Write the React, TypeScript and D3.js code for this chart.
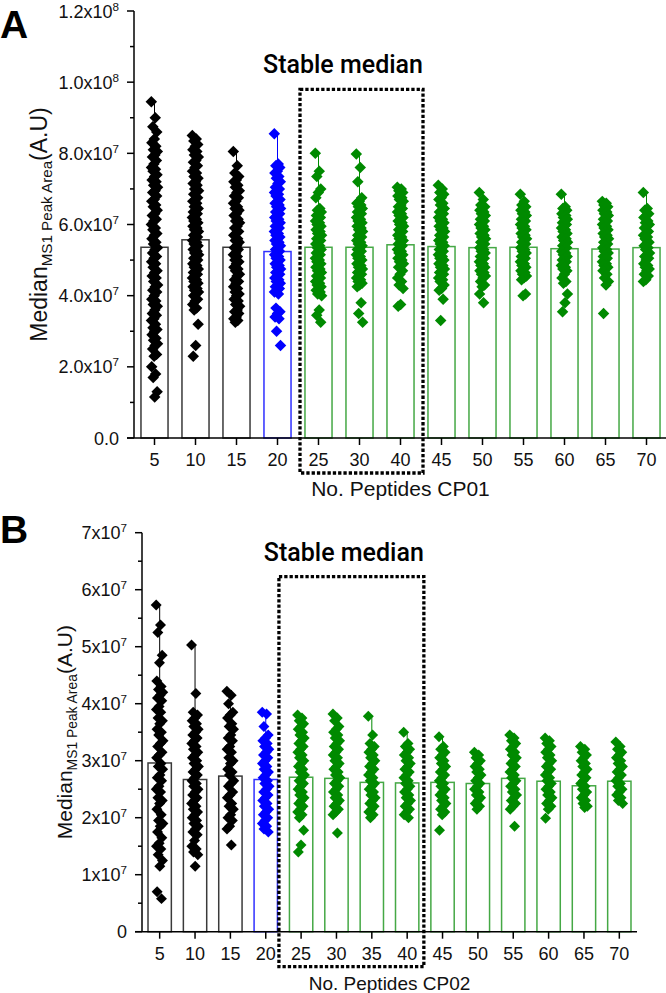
import React from 'react';
import * as d3 from 'd3';

// all values are in units of 1e7 (Median MS1 peak area, A.U)
const categoriesA = ['5', '10', '15', '20', '25', '30', '40', '45', '50', '55', '60', '65', '70'];
const categoriesB = ['5', '10', '15', '20', '25', '30', '35', '40', '45', '50', '55', '60', '65', '70'];

const mediansA = [5.36, 5.57, 5.36, 5.24, 5.36, 5.36, 5.43, 5.38, 5.35, 5.36, 5.32, 5.31, 5.35];
const mediansB = [2.96, 2.67, 2.73, 2.67, 2.71, 2.69, 2.62, 2.61, 2.62, 2.6, 2.69, 2.64, 2.56, 2.64];

const pointsA = [
  [9.45, 9.0, 8.75, 8.6, 8.4, 8.3, 8.2, 8.1, 8.05, 7.95, 7.9, 7.8, 7.7, 7.6, 7.55, 7.5, 7.4, 7.35, 7.25, 7.2, 7.1, 7.05, 6.95, 6.9, 6.8, 6.7, 6.65, 6.55, 6.5, 6.4, 6.3, 6.25, 6.15, 6.1, 6.0, 5.9, 5.85, 5.75, 5.7, 5.6, 5.5, 5.45, 5.35, 5.3, 5.2, 5.1, 5.05, 4.95, 4.9, 4.8, 4.7, 4.65, 4.55, 4.5, 4.4, 4.3, 4.25, 4.15, 4.1, 4.0, 3.9, 3.85, 3.75, 3.7, 3.6, 3.5, 3.45, 3.35, 3.3, 3.2, 3.1, 3.05, 3.0, 2.9, 2.8, 2.75, 2.65, 2.6, 2.5, 2.35, 2.3, 2.0, 1.8, 1.7, 1.3, 1.15],
  [8.5, 8.4, 8.35, 8.25, 8.2, 8.1, 8.05, 7.95, 7.9, 7.8, 7.75, 7.65, 7.6, 7.5, 7.45, 7.35, 7.3, 7.2, 7.15, 7.1, 7.0, 6.95, 6.9, 6.85, 6.75, 6.7, 6.65, 6.6, 6.5, 6.45, 6.4, 6.35, 6.3, 6.25, 6.2, 6.15, 6.1, 6.05, 6.0, 5.95, 5.9, 5.85, 5.8, 5.75, 5.7, 5.65, 5.6, 5.55, 5.5, 5.45, 5.4, 5.35, 5.3, 5.25, 5.2, 5.15, 5.1, 5.05, 5.0, 4.95, 4.9, 4.85, 4.8, 4.75, 4.7, 4.65, 4.6, 4.55, 4.5, 4.45, 4.4, 4.35, 4.3, 4.25, 4.2, 4.15, 4.1, 4.05, 4.0, 3.9, 3.85, 3.75, 3.65, 3.6, 3.2, 2.6, 2.3],
  [8.05, 7.65, 7.45, 7.35, 7.25, 7.2, 7.1, 7.05, 6.95, 6.9, 6.8, 6.75, 6.65, 6.6, 6.5, 6.45, 6.4, 6.3, 6.25, 6.15, 6.1, 6.05, 5.95, 5.9, 5.8, 5.75, 5.7, 5.6, 5.55, 5.5, 5.4, 5.35, 5.3, 5.2, 5.15, 5.1, 5.0, 4.95, 4.9, 4.8, 4.75, 4.7, 4.6, 4.55, 4.45, 4.4, 4.35, 4.25, 4.2, 4.1, 4.05, 4.0, 3.9, 3.85, 3.75, 3.7, 3.6, 3.55, 3.5, 3.4, 3.35, 3.3, 3.25],
  [8.55, 7.7, 7.65, 7.6, 7.5, 7.45, 7.35, 7.3, 7.2, 7.15, 7.05, 7.0, 6.95, 6.9, 6.85, 6.8, 6.7, 6.65, 6.6, 6.55, 6.5, 6.45, 6.4, 6.35, 6.3, 6.25, 6.2, 6.15, 6.1, 6.05, 6.0, 5.95, 5.9, 5.85, 5.8, 5.75, 5.7, 5.65, 5.6, 5.55, 5.5, 5.45, 5.4, 5.35, 5.3, 5.25, 5.2, 5.15, 5.1, 5.05, 5.0, 4.95, 4.9, 4.85, 4.8, 4.75, 4.7, 4.65, 4.6, 4.55, 4.5, 4.45, 4.4, 4.35, 4.3, 4.25, 4.2, 4.15, 4.1, 4.05, 3.65, 3.55, 3.5, 3.4, 3.35, 3.0, 2.6],
  [8.0, 7.5, 7.35, 7.0, 6.9, 6.75, 6.45, 6.4, 6.35, 6.3, 6.25, 6.2, 6.15, 6.1, 6.05, 6.0, 5.95, 5.9, 5.85, 5.8, 5.75, 5.7, 5.65, 5.6, 5.55, 5.5, 5.45, 5.4, 5.35, 5.3, 5.25, 5.2, 5.15, 5.1, 5.05, 5.0, 4.95, 4.9, 4.85, 4.8, 4.75, 4.7, 4.65, 4.6, 4.55, 4.5, 4.45, 4.4, 4.35, 4.3, 4.25, 4.2, 4.15, 4.1, 4.05, 4.0, 3.6, 3.45, 3.25],
  [7.98, 7.6, 7.2, 6.75, 6.65, 6.6, 6.55, 6.5, 6.45, 6.4, 6.35, 6.3, 6.25, 6.2, 6.15, 6.1, 6.05, 6.0, 5.95, 5.9, 5.85, 5.8, 5.75, 5.7, 5.65, 5.6, 5.55, 5.5, 5.45, 5.4, 5.35, 5.3, 5.25, 5.2, 5.15, 5.1, 5.05, 5.0, 4.95, 4.9, 4.85, 4.8, 4.75, 4.7, 4.65, 4.6, 4.55, 4.5, 4.45, 4.4, 4.35, 4.3, 4.25, 3.8, 3.5, 3.25],
  [7.05, 7.0, 6.95, 6.9, 6.85, 6.8, 6.75, 6.7, 6.65, 6.55, 6.5, 6.45, 6.4, 6.35, 6.3, 6.25, 6.2, 6.15, 6.1, 6.05, 6.0, 5.95, 5.9, 5.85, 5.8, 5.75, 5.7, 5.65, 5.6, 5.55, 5.5, 5.45, 5.4, 5.35, 5.3, 5.25, 5.2, 5.15, 5.1, 5.05, 5.0, 4.95, 4.9, 4.85, 4.8, 4.7, 4.6, 4.5, 4.4, 4.3, 4.2, 3.75, 3.7],
  [7.1, 7.0, 6.9, 6.85, 6.75, 6.7, 6.6, 6.55, 6.45, 6.4, 6.35, 6.3, 6.25, 6.2, 6.15, 6.1, 6.05, 6.0, 5.95, 5.9, 5.85, 5.8, 5.75, 5.7, 5.65, 5.6, 5.55, 5.5, 5.45, 5.4, 5.35, 5.3, 5.25, 5.2, 5.15, 5.1, 5.05, 5.0, 4.95, 4.9, 4.85, 4.8, 4.75, 4.7, 4.65, 4.6, 4.55, 4.5, 4.45, 4.4, 4.3, 4.2, 4.15, 3.9, 3.3],
  [6.9, 6.7, 6.55, 6.5, 6.45, 6.4, 6.35, 6.3, 6.25, 6.2, 6.15, 6.1, 6.05, 6.0, 5.95, 5.9, 5.85, 5.8, 5.75, 5.7, 5.65, 5.6, 5.55, 5.5, 5.45, 5.4, 5.35, 5.3, 5.25, 5.2, 5.15, 5.1, 5.05, 5.0, 4.95, 4.9, 4.85, 4.8, 4.75, 4.7, 4.65, 4.6, 4.55, 4.5, 4.4, 4.3, 4.25, 4.05, 3.8],
  [6.85, 6.65, 6.55, 6.5, 6.45, 6.4, 6.35, 6.3, 6.25, 6.2, 6.15, 6.1, 6.05, 6.0, 5.95, 5.9, 5.85, 5.8, 5.75, 5.7, 5.65, 5.6, 5.55, 5.5, 5.45, 5.4, 5.35, 5.3, 5.25, 5.2, 5.15, 5.1, 5.05, 5.0, 4.95, 4.9, 4.85, 4.8, 4.75, 4.7, 4.65, 4.6, 4.55, 4.5, 4.45, 4.05, 4.0],
  [6.85, 6.5, 6.45, 6.4, 6.35, 6.3, 6.25, 6.2, 6.15, 6.1, 6.05, 6.0, 5.95, 5.9, 5.85, 5.8, 5.75, 5.7, 5.65, 5.6, 5.55, 5.5, 5.45, 5.4, 5.35, 5.3, 5.25, 5.2, 5.15, 5.1, 5.05, 5.0, 4.95, 4.9, 4.85, 4.8, 4.75, 4.7, 4.6, 4.5, 4.4, 4.35, 4.05, 3.8, 3.55],
  [6.65, 6.6, 6.55, 6.5, 6.45, 6.4, 6.35, 6.3, 6.25, 6.2, 6.15, 6.1, 6.05, 6.0, 5.95, 5.9, 5.85, 5.8, 5.75, 5.7, 5.65, 5.6, 5.55, 5.5, 5.45, 5.4, 5.35, 5.3, 5.25, 5.2, 5.15, 5.1, 5.05, 5.0, 4.95, 4.9, 4.85, 4.8, 4.75, 4.7, 4.6, 4.5, 4.4, 4.3, 3.5],
  [6.9, 6.45, 6.4, 6.3, 6.25, 6.2, 6.1, 6.05, 6.0, 5.95, 5.9, 5.8, 5.75, 5.7, 5.65, 5.6, 5.5, 5.45, 5.4, 5.35, 5.3, 5.2, 5.15, 5.1, 5.05, 5.0, 4.9, 4.85, 4.8, 4.75, 4.7, 4.6, 4.55, 4.45, 4.4],
];

const pointsB = [
  [5.73, 5.38, 5.25, 4.85, 4.72, 4.4, 4.3, 4.25, 4.2, 4.15, 4.1, 4.05, 3.95, 3.9, 3.85, 3.75, 3.7, 3.65, 3.55, 3.5, 3.45, 3.35, 3.3, 3.25, 3.15, 3.1, 3.05, 2.95, 2.9, 2.85, 2.75, 2.7, 2.65, 2.55, 2.5, 2.45, 2.35, 2.3, 2.25, 2.15, 2.05, 1.95, 1.9, 1.85, 1.75, 1.65, 1.55, 1.5, 1.45, 1.35, 1.25, 1.15, 0.7, 0.58],
  [5.03, 4.18, 3.85, 3.8, 3.75, 3.7, 3.65, 3.6, 3.55, 3.5, 3.45, 3.4, 3.35, 3.3, 3.25, 3.2, 3.15, 3.1, 3.05, 3.0, 2.95, 2.9, 2.85, 2.8, 2.75, 2.7, 2.65, 2.6, 2.55, 2.5, 2.45, 2.4, 2.35, 2.3, 2.25, 2.2, 2.15, 2.1, 2.05, 2.0, 1.95, 1.9, 1.85, 1.8, 1.75, 1.7, 1.6, 1.5, 1.45, 1.4, 1.35, 1.15],
  [4.22, 4.15, 4.0, 3.85, 3.8, 3.75, 3.65, 3.6, 3.55, 3.45, 3.4, 3.35, 3.25, 3.2, 3.15, 3.05, 3.0, 2.95, 2.85, 2.8, 2.75, 2.65, 2.6, 2.55, 2.45, 2.4, 2.35, 2.25, 2.2, 2.15, 2.05, 2.0, 1.95, 1.85, 1.8, 1.52],
  [3.85, 3.82, 3.6, 3.45, 3.4, 3.35, 3.3, 3.25, 3.2, 3.15, 3.1, 3.05, 3.0, 2.95, 2.9, 2.85, 2.8, 2.75, 2.7, 2.65, 2.6, 2.55, 2.5, 2.45, 2.4, 2.35, 2.3, 2.25, 2.2, 2.15, 2.1, 2.05, 2.0, 1.95, 1.9, 1.85, 1.8, 1.75],
  [3.8, 3.75, 3.7, 3.65, 3.6, 3.55, 3.5, 3.45, 3.4, 3.35, 3.3, 3.25, 3.2, 3.15, 3.1, 3.05, 3.0, 2.95, 2.9, 2.85, 2.8, 2.75, 2.7, 2.65, 2.6, 2.55, 2.5, 2.45, 2.4, 2.35, 2.3, 2.25, 2.2, 2.15, 2.1, 2.05, 2.0, 1.78, 1.52, 1.4],
  [3.82, 3.75, 3.7, 3.6, 3.55, 3.5, 3.45, 3.4, 3.35, 3.3, 3.25, 3.2, 3.15, 3.1, 3.05, 3.0, 2.95, 2.9, 2.85, 2.8, 2.75, 2.7, 2.65, 2.6, 2.55, 2.5, 2.45, 2.4, 2.35, 2.3, 2.25, 2.2, 2.15, 2.1, 2.05, 1.73],
  [3.78, 3.45, 3.3, 3.25, 3.2, 3.15, 3.1, 3.05, 3.0, 2.95, 2.9, 2.85, 2.8, 2.75, 2.7, 2.65, 2.6, 2.55, 2.5, 2.45, 2.4, 2.35, 2.3, 2.25, 2.2, 2.15, 2.1, 2.05, 2.0],
  [3.5, 3.3, 3.25, 3.2, 3.15, 3.1, 3.05, 3.0, 2.95, 2.9, 2.85, 2.8, 2.75, 2.7, 2.65, 2.6, 2.55, 2.5, 2.45, 2.4, 2.35, 2.3, 2.25, 2.2, 2.15, 2.1, 2.05, 2.0],
  [3.42, 3.25, 3.2, 3.15, 3.1, 3.05, 3.0, 2.95, 2.9, 2.85, 2.8, 2.75, 2.7, 2.65, 2.6, 2.55, 2.5, 2.45, 2.4, 2.35, 2.3, 2.25, 2.2, 2.15, 2.1, 2.05, 1.78],
  [3.15, 3.1, 3.05, 3.0, 2.95, 2.9, 2.85, 2.8, 2.75, 2.7, 2.65, 2.6, 2.55, 2.5, 2.45, 2.4, 2.35, 2.3, 2.25, 2.2, 2.15],
  [3.45, 3.4, 3.35, 3.3, 3.25, 3.2, 3.15, 3.1, 3.05, 3.0, 2.95, 2.9, 2.85, 2.8, 2.75, 2.7, 2.65, 2.6, 2.55, 2.5, 2.45, 2.4, 2.35, 2.3, 2.25, 2.2, 2.15, 1.85],
  [3.4, 3.35, 3.3, 3.25, 3.2, 3.15, 3.1, 3.05, 3.0, 2.95, 2.9, 2.85, 2.8, 2.75, 2.7, 2.65, 2.6, 2.55, 2.5, 2.45, 2.4, 2.35, 2.3, 2.25, 2.2, 2.15, 1.99],
  [3.25, 3.2, 3.15, 3.1, 3.05, 3.0, 2.95, 2.9, 2.85, 2.8, 2.75, 2.7, 2.65, 2.6, 2.55, 2.5, 2.45, 2.4, 2.35, 2.3, 2.25, 2.2, 2.18],
  [3.33, 3.25, 3.2, 3.15, 3.1, 3.05, 3.0, 2.95, 2.9, 2.85, 2.8, 2.75, 2.7, 2.65, 2.6, 2.55, 2.5, 2.45, 2.4, 2.35, 2.3, 2.25],
];

const yTicksA = [0, 2, 4, 6, 8, 10, 12];
const yTickLabelsA = ['0.0', '2.0x10^7', '4.0x10^7', '6.0x10^7', '8.0x10^7', '1.0x10^8', '1.2x10^8'];
const yTicksB = [0, 1, 2, 3, 4, 5, 6, 7];
const yTickLabelsB = ['0', '1x10^7', '2x10^7', '3x10^7', '4x10^7', '5x10^7', '6x10^7', '7x10^7'];

const pointColor = { black: '#000000', blue: '#0000ff', green: '#008a00' };
const barColor = { black: '#3a3a3a', blue: '#3030ff', green: '#45a845' };
const groupOf = (c: string) => (+c < 20 ? 'black' : +c === 20 ? 'blue' : 'green');

const FONT = '"Liberation Sans", Arial, sans-serif';

function Panel(p: any) {
  const x = d3.scaleBand<string>().domain(p.categories).range([p.left, p.right]).paddingInner(0.34).paddingOuter(0.17);
  const y = d3.scaleLinear().domain([0, p.yMax]).range([p.bottom, p.top]);
  const diamond = d3.symbol().type(d3.symbolSquare).size(p.symbolSize)() as string;
  const cx = (c: string) => (x(c) as number) + x.bandwidth() / 2;
  const minorTicks = d3.range(p.minorStep, p.yMax, p.minorStep * 2);

  const rectLeft = (cx(p.boxFrom[0]) + cx(p.boxFrom[1])) / 2 + p.boxOffset[0];
  const rectRight = (cx(p.boxTo[0]) + cx(p.boxTo[1])) / 2 + p.boxOffset[1];

  return (
    <g>
      {/* bars */}
      {p.categories.map((c: string, i: number) => (
        <rect key={'b' + c} x={x(c)} y={y(p.medians[i])} width={x.bandwidth()} height={p.bottom - y(p.medians[i])}
          fill="none" stroke={barColor[groupOf(c)]} strokeWidth={1.5} />
      ))}
      {/* whiskers to max */}
      {p.categories.map((c: string, i: number) => (
        <line key={'w' + c} x1={cx(c)} x2={cx(c)} y1={y(p.medians[i])} y2={y(d3.max(p.points[i]) as number)}
          stroke={pointColor[groupOf(c)]} strokeWidth={1} />
      ))}
      {/* points */}
      {p.categories.map((c: string, i: number) => (
        <g key={'p' + c} fill={pointColor[groupOf(c)]}>
          {p.points[i].map((v: number, j: number) => {
            const dx = (((j * 0.618034) % 1) - 0.5) * 2 * p.jitter;
            return <path key={j} d={diamond} transform={`translate(${cx(c) + dx},${y(v)}) rotate(45)`} />;
          })}
        </g>
      ))}
      {/* y axis */}
      <line x1={p.left} x2={p.left} y1={p.top} y2={p.bottom} stroke="#000" strokeWidth={1.5} />
      {p.yTicks.map((t: number, i: number) => {
        const [m, e] = p.yTickLabels[i].split('^');
        return (
          <g key={'yt' + t}>
            <line x1={p.left - 7} x2={p.left} y1={y(t)} y2={y(t)} stroke="#000" strokeWidth={1.5} />
            <text x={p.left - p.labelGap} y={y(t) + 6.5} textAnchor="end" fontFamily={FONT} fontSize={p.tickFont} fill="#111">
              <tspan>{m}</tspan>
              {e && <tspan dy={-7} fontSize={p.tickFont * 0.65}>{e}</tspan>}
            </text>
          </g>
        );
      })}
      {minorTicks.map((t: number) => (
        <line key={'mt' + t} x1={p.left - 4} x2={p.left} y1={y(t)} y2={y(t)} stroke="#000" strokeWidth={1.5} />
      ))}
      {/* x axis */}
      <line x1={p.left - 7} x2={p.right} y1={p.bottom} y2={p.bottom} stroke="#000" strokeWidth={1.5} />
      {p.categories.map((c: string) => (
        <g key={'xt' + c}>
          <line x1={cx(c)} x2={cx(c)} y1={p.bottom} y2={p.bottom + 7} stroke="#000" strokeWidth={1.5} />
          <text x={cx(c)} y={p.bottom + 28} textAnchor="middle" fontFamily={FONT} fontSize={p.tickFont} fill="#111">{c}</text>
        </g>
      ))}
      <text x={(p.left + p.right) / 2} y={p.bottom + 58} textAnchor="middle" fontFamily={FONT} fontSize={p.titleFont - 2} fill="#111">
        {p.xTitle}
      </text>
      {/* y title */}
      <text transform={`translate(${p.yTitleX},${(p.top + p.bottom) / 2}) rotate(-90)`} textAnchor="middle" fontFamily={FONT} fontSize={p.titleFont} fill="#111">
        <tspan>Median</tspan>
        <tspan fontSize={p.titleFont * 0.66} dy={5}>MS1 Peak Area</tspan>
        <tspan dy={-5}>(A.U)</tspan>
      </text>
      {/* panel letter */}
      <text x={0} y={p.letterY} fontFamily={FONT} fontWeight="bold" fontSize={39} fill="#000">{p.letter}</text>
      {/* stable median box */}
      <rect x={rectLeft} y={y(p.boxTop)} width={rectRight - rectLeft} height={p.bottom + 35 - y(p.boxTop)}
        fill="none" stroke="#000" strokeWidth={3.3} strokeDasharray="3.3 2" />
      <text x={rectRight} y={y(p.boxTop) - 16} textAnchor="end" fontFamily="Roboto, sans-serif" fontWeight={500} fontSize={25} fill="#000">
        Stable median
      </text>
    </g>
  );
}

export default function App() {
  return (
    <svg width={666} height={993} style={{ position: 'absolute', left: 0, top: 0, background: '#fff' }}>
      <Panel letter="A" letterY={38} categories={categoriesA} medians={mediansA} points={pointsA}
        left={134} right={667} top={11} bottom={438} yMax={12} minorStep={1}
        yTicks={yTicksA} yTickLabels={yTickLabelsA} tickFont={18} titleFont={23} labelGap={15} yTitleX={47}
        symbolSize={66} jitter={3.2} xTitle="No. Peptides CP01"
        boxFrom={['20', '25']} boxTo={['40', '45']} boxOffset={[2, 2]} boxTop={9.8} />
      <Panel letter="B" letterY={543} categories={categoriesB} medians={mediansB} points={pointsB}
        left={142} right={637} top={532.7} bottom={931.7} yMax={7} minorStep={0.5}
        yTicks={yTicksB} yTickLabels={yTickLabelsB} tickFont={18} titleFont={21} labelGap={15} yTitleX={72}
        symbolSize={60} jitter={3.5} xTitle="No. Peptides CP02"
        boxFrom={['20', '25']} boxTo={['40', '45']} boxOffset={[-4.5, -1]} boxTop={6.23} />
    </svg>
  );
}
